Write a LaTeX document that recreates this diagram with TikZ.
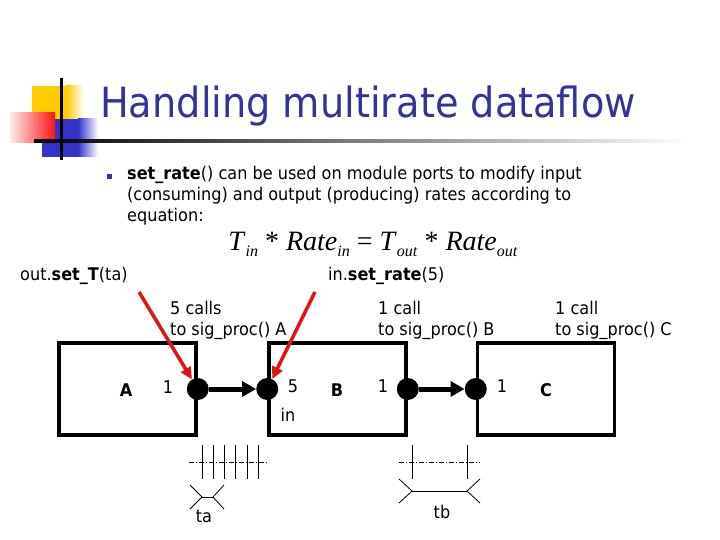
\documentclass[tikz,border=0pt]{standalone}
\usepackage{fontspec}
\setmainfont{DejaVu Sans}[FakeStretch=0.92]
\newfontfamily\eqfont{Liberation Serif}
\usetikzlibrary{arrows.meta}
\definecolor{titleblue}{RGB}{51,51,153}
\definecolor{logoyellow}{RGB}{255,204,0}
\definecolor{logoblue}{RGB}{51,51,204}
\definecolor{logored}{RGB}{250,20,20}
\definecolor{logopink}{RGB}{255,235,235}
\definecolor{arrowred}{RGB}{225,20,20}
\newcommand\eqsub[1]{\raisebox{-6pt}{\fontsize{16}{16}\selectfont #1}}
\begin{document}
\begin{tikzpicture}[x=1pt,y=-1pt,
  txt/.style={anchor=base west, inner sep=0pt, font=\fontsize{17.5}{20}\selectfont},
  lbl/.style={inner sep=0pt, font=\fontsize{17.5}{20}\selectfont},
  blk/.style={draw, line width=3.5pt, minimum width=137pt, minimum height=92pt, inner sep=0pt},
  port/.style={circle, fill=black, minimum size=22pt, inner sep=0pt},
  flow/.style={line width=5pt, -{Triangle[length=14pt,width=15pt]}},
  redarrow/.style={draw=arrowred, line width=3.5pt, -{Triangle[length=12pt,width=11pt]}, arrowred},
  tline/.style={line width=0.8pt, dash pattern=on 5pt off 2pt on 1pt off 2pt},
  tick/.style={line width=0.8pt}
]
\useasboundingbox[fill=white] (0,0) rectangle (720,540);

% logo
\fill[logoyellow] (32,86) rectangle (66,120);
\shade[left color=logoyellow,right color=white] (66,86) rectangle (84,120);
\fill[logoblue] (42,119) rectangle (78,157);
\shade[left color=logoblue,right color=white] (78,119) rectangle (98,157);
\shade[left color=logopink,right color=logored] (10,113) rectangle (55,143);
\shade[left color=black,right color=white] (34,140) rectangle (690,143);
\fill[black] (60,78) rectangle (63,160);

% title
\node[anchor=base west, inner sep=0pt, text=titleblue, font=\fontsize{41.6}{50}\selectfont] (title) at (100,118) {Handling multirate dataflow};

% bullet text
\fill[titleblue] (107,174) rectangle (112,179);
\node[txt] (l1) at (127,180) {\textbf{set\_rate}() can be used on module ports to modify input};
\node[txt] (l2) at (127,201) {(consuming) and output (producing) rates according to};
\node[txt] (l3) at (127,222) {equation:};
\node[anchor=base, inner sep=0pt, font=\eqfont\fontsize{28}{32}\selectfont] (eq) at (373,250)
  {\textit{T}\eqsub{\textit{in}} * \textit{Rate}\eqsub{\textit{in}} = \textit{T}\eqsub{\textit{out}} * \textit{Rate}\eqsub{\textit{out}}};

% labels above
\node[txt] (setT) at (20,280) {out.\textbf{set\_T}(ta)};
\node[txt] (setR) at (328,280) {in.\textbf{set\_rate}(5)};
\node[txt] (cA1) at (170,314) {5 calls};
\node[txt] (cA2) at (170,335) {to sig\_proc() A};
\node[txt] (cB1) at (378,314) {1 call};
\node[txt] (cB2) at (378,335) {to sig\_proc() B};
\node[txt] (cC1) at (555,314) {1 call};
\node[txt] (cC2) at (555,335) {to sig\_proc() C};

% blocks
\node[blk] (A) at (127.5,389) {};
\node[blk] (B) at (337.5,389) {};
\node[blk] (C) at (546,389) {};
\node[port] (pAo) at (A.east) {};
\node[port] (pBi) at (B.west) {};
\node[port] (pBo) at (B.east) {};
\node[port] (pCi) at (C.west) {};
\draw[flow] (pAo) -- (pBi);
\draw[flow] (pBo) -- (pCi);

\node[lbl, font=\fontsize{17.5}{20}\selectfont\bfseries] (lA) at (126,390) {A};
\node[lbl] (nA) at (168,387) {1};
\node[lbl] (nBi) at (293,386) {5};
\node[lbl, font=\fontsize{17.5}{20}\selectfont\bfseries] (lB) at (337,390) {B};
\node[lbl] (inl) at (288,415) {in};
\node[lbl] (nBo) at (383,386) {1};
\node[lbl] (nCi) at (502,386) {1};
\node[lbl, font=\fontsize{17.5}{20}\selectfont\bfseries] (lC) at (546,390) {C};

% red arrows
\coordinate (r1) at (139,292);
\coordinate (r2) at (315,292);
\draw[redarrow] (r1) -- (pAo);
\draw[redarrow] (r2) -- (pBi);

% timing ta
\draw[tline] (189,462) -- (269,462);
\foreach \x in {202,213,224,235,247,258} \draw[tick] (\x,445) -- (\x,479);
\draw[tick] (190,485) -- (202,497) -- (190,509);
\draw[tick] (202,497) -- (213,497);
\draw[tick] (224,485) -- (213,497) -- (224,509);
\node[lbl] (ta) at (204,516) {ta};

% timing tb
\draw[tline] (399,462) -- (480,462);
\foreach \x in {412,467} \draw[tick] (\x,445) -- (\x,479);
\draw[tick] (399,479) -- (412,491) -- (399,503);
\draw[tick] (412,491) -- (467,491);
\draw[tick] (480,479) -- (467,491) -- (480,503);
\node[lbl] (tb) at (442,512) {tb};
\end{tikzpicture}
\end{document}
